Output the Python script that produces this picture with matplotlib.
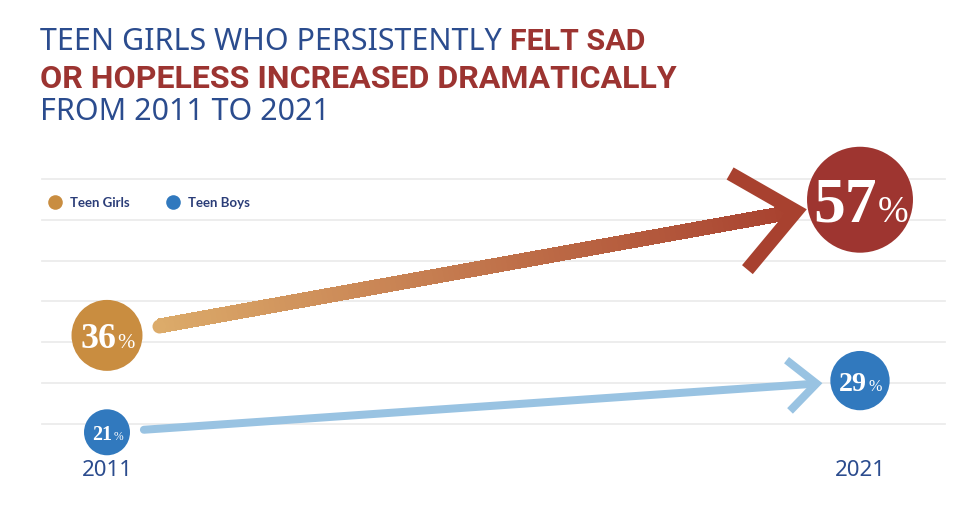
import numpy as np
import matplotlib
matplotlib.use("Agg")
import matplotlib.pyplot as plt
from matplotlib.collections import PolyCollection
from matplotlib.lines import Line2D
from matplotlib.transforms import IdentityTransform
from matplotlib.colors import to_rgb

# ---------------- data ----------------
YEARS = [2011, 2021]
GIRLS = [36, 57]
BOYS = [21, 29]
SERIES_NAMES = ["Teen Girls", "Teen Boys"]
TITLE_LINES = [
    [("TEEN GIRLS WHO PERSISTENTLY ", "light"), ("FELT SAD", "bold")],
    [("OR HOPELESS INCREASED DRAMATICALLY", "bold")],
    [("FROM 2011 TO 2021", "light")],
]

# ---------------- style ----------------
W, H, DPI = 980, 510, 100
NAVY = "#2b4c8e"
RED = "#9c3431"
GIRL_C = "#c98d40"
GIRL_END_C = "#9e3530"
BOY_C = "#3179be"
BOY_LINE = "#99c3e2"
GRAD_A = "#dcab6a"
GRAD_B = "#a8412f"
GRID_C = "#ececec"

fig = plt.figure(figsize=(W / DPI, H / DPI), dpi=DPI)
fig.patch.set_facecolor("white")
ax = fig.add_axes([0, 0, 1, 1])
ax.set_axis_off()

px_per_year = (860 - 107) / (YEARS[1] - YEARS[0])
ax.set_xlim(YEARS[0] - 107 / px_per_year, YEARS[0] + (W - 107) / px_per_year)
px_per_pct = 6.46
ax.set_ylim(35.75 - (H - 338) / px_per_pct, 35.75 + 338 / px_per_pct)

fig.canvas.draw()
renderer = fig.canvas.get_renderer()
ID = IdentityTransform()

for i in range(7):
    ytop = 180 + i * 40.8
    fig.add_artist(Line2D([42 / W, 945 / W], [1 - ytop / H] * 2,
                          transform=fig.transFigure, color=GRID_C, lw=1.3, zorder=0))


def radius_px(v):
    return 5.5 + 0.833 * v


def disp(x, y):
    return ax.transData.transform((x, y))


def draw_connector(v0, v1, lw_px, start_gap, tip_gap, arm_len, arm_ang, colors, head_color):
    p0 = disp(YEARS[0], v0)
    p1 = disp(YEARS[1], v1)
    d = p1 - p0
    u = d / np.linalg.norm(d)
    nrm = np.array([-u[1], u[0]])
    start = p0 + u * (radius_px(v0) + start_gap)
    tip = p1 - u * (radius_px(v1) + tip_gap)
    lw_pt = lw_px * 72 / DPI
    end = tip - u * 4
    if colors is None:
        ax.add_line(Line2D([start[0], end[0]], [start[1], end[1]],
                           transform=ID, color=head_color, lw=lw_pt,
                           solid_capstyle="round", zorder=2))
    else:
        n = 120
        ts = np.linspace(0, 1, n + 1)
        pts = start + np.outer(ts, end - start)
        hw = lw_px / 2
        ca, cb = np.array(to_rgb(colors[0])), np.array(to_rgb(colors[1]))
        polys, cols = [], []
        for k in range(n):
            a, b = pts[k], pts[k + 1] + u * 0.8
            polys.append([a + nrm * hw, b + nrm * hw, b - nrm * hw, a - nrm * hw])
            t = (k + 0.5) / n
            cols.append(ca * (1 - t) + cb * t)
        pc = PolyCollection(polys, facecolors=cols, edgecolors="none",
                            transform=ID, zorder=2, antialiased=False)
        ax.add_collection(pc)
        ax.add_line(Line2D([start[0]], [start[1]], marker="o", ms=lw_pt, mew=0,
                           color=colors[0], transform=ID, zorder=2))
    back = -u

    def rot(v, a):
        c, s = np.cos(a), np.sin(a)
        return np.array([c * v[0] - s * v[1], s * v[0] + c * v[1]])
    a = np.deg2rad(arm_ang)
    e1 = tip + rot(back, a) * arm_len
    e2 = tip + rot(back, -a) * arm_len
    ax.add_line(Line2D([e1[0], tip[0], e2[0]], [e1[1], tip[1], e2[1]], transform=ID,
                       color=head_color, lw=lw_pt, solid_joinstyle="miter",
                       solid_capstyle="butt", zorder=2))


draw_connector(GIRLS[0], GIRLS[1], 14, 17, 12, 76, 40, (GRAD_A, GRAD_B), GRAD_B)
draw_connector(BOYS[0], BOYS[1], 8, 14, 14, 38, 42, None, BOY_LINE)


def circle(x, v, color):
    r = radius_px(v)
    d_pt = 2 * r * 72 / DPI
    ax.scatter([x], [v], s=d_pt ** 2, color=color, edgecolors="none", zorder=3)

circle(YEARS[0], GIRLS[0], GIRL_C)
circle(YEARS[1], GIRLS[1], GIRL_END_C)
circle(YEARS[0], BOYS[0], BOY_C)
circle(YEARS[1], BOYS[1], BOY_C)

SERIF = ["Liberation Serif", "DejaVu Serif"]


def pct_label(x, v):
    r = radius_px(v)
    cap = r * (0.45 + 0.006 * v)
    big = cap / 0.66 * 72 / DPI
    small = big * 0.58
    cx, cy = disp(x, v)
    t1 = ax.text(0, 0, f"{v}", fontsize=big, family=SERIF, weight="bold", color="white",
                 transform=ID, ha="left", va="baseline", zorder=4)
    t2 = ax.text(0, 0, "%", fontsize=small, family=SERIF, color="white",
                 transform=ID, ha="left", va="baseline", zorder=4)
    w1 = t1.get_window_extent(renderer).width
    w2 = t2.get_window_extent(renderer).width
    x0 = cx - (w1 + w2) / 2
    base = cy - cap / 2
    t1.set_position((x0, base))
    t2.set_position((x0 + w1 + 1, base))

for x, v in zip(YEARS, GIRLS):
    pct_label(x, v)
for x, v in zip(YEARS, BOYS):
    pct_label(x, v)

LIGHT = dict(family=["Noto Sans", "DejaVu Sans"])
BOLD = dict(family=["Roboto", "DejaVu Sans"], weight="bold")

for yr in YEARS:
    px, _ = disp(yr, 0)
    ax.text(px, H - 471, str(yr), transform=ID, ha="center", va="center",
            fontsize=16, color=NAVY, zorder=4, **LIGHT)

LEG_FONT = ["Lato", "DejaVu Sans"]
for name, col, cx in zip(SERIES_NAMES, [GIRL_C, BOY_C], [55, 173]):
    ax.add_line(Line2D([cx], [H - 203], marker="o", ms=10.5, mew=0, color=col,
                       transform=ID, zorder=4))
    ax.text(cx + 15, H - 203, name, transform=ID, ha="left", va="center",
            fontsize=9.5, family=LEG_FONT, weight="bold", color="#2b3d78", zorder=4)

baselines = [H - 50, H - 88, H - 120]
targets = [605, 635, 290]
for line, base, target in zip(TITLE_LINES, baselines, targets):
    size = 20
    texts = []
    for txt, wt in line:
        kw = BOLD if wt == "bold" else LIGHT
        t = ax.text(0, 0, txt, fontsize=size, color=RED if wt == "bold" else NAVY,
                    transform=ID, ha="left", va="baseline", zorder=4, **kw)
        texts.append(t)
    total = sum(t.get_window_extent(renderer).width for t in texts)
    size2 = size * target / total
    xpos = 40
    for t in texts:
        t.set_fontsize(size2)
        t.set_position((xpos, base))
        xpos += t.get_window_extent(renderer).width

fig.savefig("out.png", dpi=DPI, facecolor="white")
